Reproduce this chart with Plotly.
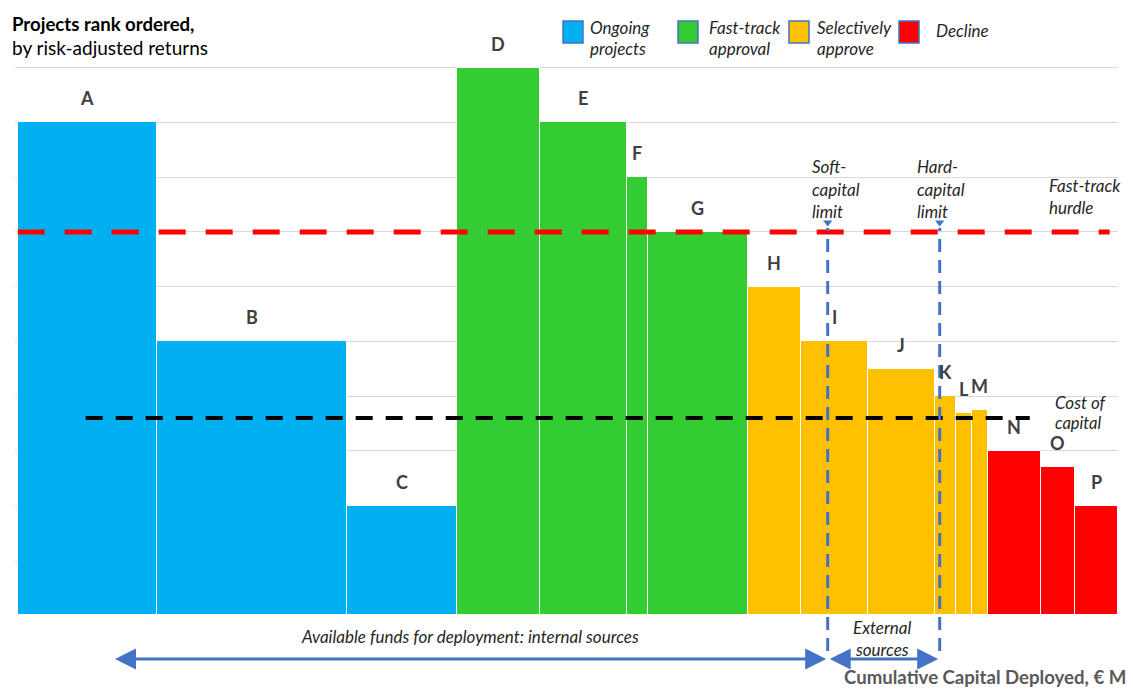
import plotly.graph_objects as go

# Project data: capital (bar width, €M) and risk-adjusted return (bar height)
projects = ["A", "B", "C", "D", "E", "F", "G", "H", "I", "J", "K", "L", "M", "N", "O", "P"]
capital = [139, 190, 110, 83, 87, 21, 100, 53, 67, 67, 21, 16, 16, 53, 34, 43]
returns = [9, 5, 2, 10, 9, 8, 7, 6, 5, 4.5, 4, 3.7, 3.75, 3, 2.7, 2]
groups = ["Ongoing projects"] * 3 + ["Fast-track approval"] * 4 + ["Selectively approve"] * 6 + ["Decline"] * 3

group_colors = {
    "Ongoing projects": "#00B0F0",
    "Fast-track approval": "#33CC33",
    "Selectively approve": "#FFC000",
    "Decline": "#FF0000",
}

fast_track_hurdle = 7.0
cost_of_capital = 3.6
soft_capital_limit = 810
hard_capital_limit = 922

W, H = 1133, 689
ML, MR, MT, MB = 15, 15, 13, 74
X_MIN, X_MAX = -2.7, 1100.3
Y_MAX = 11

FONT = "Lato"
ITALIC_SIZE = 17

# bar geometry
lefts = []
acc = 0
for c in capital:
    lefts.append(acc)
    acc += c
centers = [l + c / 2 for l, c in zip(lefts, capital)]


def px_x(p):
    return (p - ML) / (W - ML - MR)


def px_y(p):
    return (H - MB - p) / (H - MT - MB)


def data_to_paper_x(x):
    return (x - X_MIN) / (X_MAX - X_MIN)


fig = go.Figure()

fig.add_trace(go.Bar(
    x=centers,
    y=returns,
    width=capital,
    marker=dict(color=[group_colors[g] for g in groups], line=dict(color="white", width=1)),
    hoverinfo="x+y",
    showlegend=False,
))

# marker heads on the capital-limit lines
fig.add_trace(go.Scatter(
    x=[soft_capital_limit, hard_capital_limit],
    y=[7.17, 7.17],
    mode="markers",
    marker=dict(symbol="triangle-down", size=8, color="#4472C4"),
    hoverinfo="skip",
    showlegend=False,
))

shapes = []
# fast-track hurdle
shapes.append(dict(type="line", xref="x", yref="y", x0=0, x1=1092,
                   y0=fast_track_hurdle, y1=fast_track_hurdle,
                   line=dict(color="#FF0000", width=5, dash="27px,20px")))
# cost of capital
shapes.append(dict(type="line", xref="x", yref="y", x0=68, x1=1012,
                   y0=cost_of_capital, y1=cost_of_capital,
                   line=dict(color="black", width=4, dash="17px,13px")))
# capital limits (extend below the axis)
for xl in (soft_capital_limit, hard_capital_limit):
    xp = data_to_paper_x(xl)
    shapes.append(dict(type="line", xref="paper", yref="paper", x0=xp, x1=xp,
                       y0=px_y(651), y1=px_y(228),
                       line=dict(color="#4472C4", width=3, dash="13px,8px")))

# legend swatches
legend_items = [
    (563, "#00B0F0"),
    (678, "#33CC33"),
    (789, "#FFC000"),
    (899, "#FF0000"),
]
for x0, col in legend_items:
    shapes.append(dict(type="rect", xref="paper", yref="paper",
                       x0=px_x(x0), x1=px_x(x0 + 20), y0=px_y(43), y1=px_y(21),
                       fillcolor=col, line=dict(color="#4472C4", width=1.5)))

annotations = []


def text(x, y, s, size=ITALIC_SIZE, color="#262626", italic=True, bold=False, anchor="left"):
    t = s
    if bold:
        t = "<b>" + t + "</b>"
    if italic:
        t = "<i>" + t + "</i>"
    annotations.append(dict(xref="paper", yref="paper", x=px_x(x), y=px_y(y),
                            text=t, showarrow=False, xanchor=anchor, yanchor="middle",
                            font=dict(family=FONT, size=size, color=color)))


# project letters above bars
for name, cx, v in zip(projects, centers, returns):
    annotations.append(dict(xref="x", yref="y", x=cx, y=v, yshift=24, text="<b>" + name + "</b>",
                            showarrow=False, xanchor="center", yanchor="middle",
                            font=dict(family=FONT, size=18, color="#404040")))

# title
text(10, 24, "Projects rank ordered,", size=18.6, color="black", italic=False, bold=True)
text(10, 47, "by risk-adjusted returns", size=19, color="black", italic=False)

# legend labels
text(588, 27, "Ongoing")
text(588, 49, "projects")
text(707, 27, "Fast-track")
text(707, 49, "approval")
text(815, 27, "Selectively")
text(815, 49, "approve")
text(934, 30, "Decline")

# line labels
text(810, 166, "Soft-")
text(810, 189, "capital")
text(810, 211, "limit")
text(915, 166, "Hard-")
text(915, 189, "capital")
text(915, 211, "limit")
text(1047, 185, "Fast-track")
text(1047, 207, "hurdle")
text(1053, 402, "Cost of")
text(1053, 423, "capital", size=16.5)

# funding annotations
text(470, 636, "Available funds for deployment: internal sources", anchor="center")
text(882, 627, "External", anchor="center")
text(882, 649, "sources", anchor="center")
text(1128, 677, "Cumulative Capital Deployed, € M", size=18.6, color="#595959",
     italic=False, bold=True, anchor="right")

# arrows
soft_px = data_to_paper_x(soft_capital_limit) * (W - ML - MR) + ML
hard_px = data_to_paper_x(hard_capital_limit) * (W - ML - MR) + ML
annotations.append(dict(xref="paper", yref="paper", x=px_x(115), y=px_y(659),
                        ax=soft_px - 115, ay=0, text="", showarrow=True,
                        arrowhead=2, startarrowhead=2, arrowside="end+start",
                        arrowwidth=3, arrowsize=1.4, startarrowsize=1.4,
                        arrowcolor="#4472C4", standoff=0, startstandoff=0))
annotations.append(dict(xref="paper", yref="paper", x=px_x(soft_px + 2), y=px_y(659),
                        ax=hard_px - soft_px - 2, ay=0, text="", showarrow=True,
                        arrowhead=2, startarrowhead=2, arrowside="end+start",
                        arrowwidth=3, arrowsize=1.4, startarrowsize=1.4,
                        arrowcolor="#4472C4", standoff=0, startstandoff=0))

fig.update_layout(
    width=W, height=H,
    margin=dict(l=ML, r=MR, t=MT, b=MB, pad=0),
    paper_bgcolor="white", plot_bgcolor="white",
    bargap=0,
    shapes=shapes,
    annotations=annotations,
    font=dict(family=FONT),
    xaxis=dict(range=[X_MIN, X_MAX], showgrid=False, zeroline=False,
               showticklabels=False, ticks="", showline=False, fixedrange=True),
    yaxis=dict(range=[0, Y_MAX], dtick=1, showgrid=True, gridcolor="#D9D9D9", gridwidth=1,
               zeroline=False, showticklabels=False, ticks="", showline=False, fixedrange=True),
)

fig.write_html("out.html", config={"displayModeBar": False})
